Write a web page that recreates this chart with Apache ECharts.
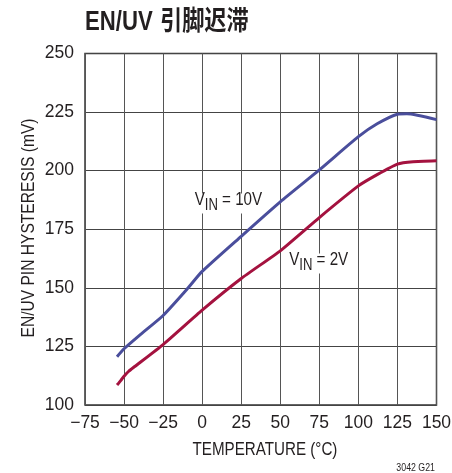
<!DOCTYPE html>
<html><head><meta charset="utf-8">
<script src="https://cdn.jsdelivr.net/npm/echarts@6/dist/echarts.min.js"></script>
<style>html,body{margin:0;padding:0;background:#fff}#c{width:452px;height:473px}</style>
</head><body><div id="c"></div>
<script>
const titleLatin = 'EN/UV';
const titleCn = '引脚迟滞';
const xName = 'TEMPERATURE (°C)';
const yName = 'EN/UV PIN HYSTERESIS (mV)';
const figNote = '3042 G21';
const label10V = ['V', 'IN', ' = 10V'];
const label2V = ['V', 'IN', ' = 2V'];

const xTicks = [-75, -50, -25, 0, 25, 50, 75, 100, 125, 150];
const yTicks = [100, 125, 150, 175, 200, 225, 250];

const temp10V = [-54.5, -50, -40, -25, -10, 0, 25, 50, 75, 100, 112, 125, 131, 150];
const hyst10V = [120.6, 124, 129.8, 138.2, 149.2, 157, 172, 186.7, 200.3, 214.5, 220, 224.1, 224.3, 221.8];

const temp2V = [-54.5, -52, -50, -47, -44, -25, 0, 25, 50, 75, 100, 112, 125, 135, 150];
const hyst2V = [108.5, 110.5, 112.3, 114.4, 116, 125.8, 140.5, 154, 165.8, 180, 193.5, 198.3, 202.8, 203.8, 204.2];

const FONT = "'Liberation Sans',Arial,sans-serif";
const CJK = "'Liberation Sans','Noto Sans CJK SC',sans-serif";
const TXT = '#231f20';
const NARROW = 0.82;

const chart = echarts.init(document.getElementById('c'), null, {renderer: 'canvas'});
const zip = (a, b) => a.map((v, i) => [v, b[i]]);
const minus = v => String(v).replace('-', '\u2212');

function subLabel(parts) {
  return '{a|' + parts[0] + '}{b|' + parts[1] + '}{a|' + parts[2] + '}';
}
const richSub = {
  a: {fontFamily: FONT, fontSize: 18.5, lineHeight: 20, padding: [0, 0, 4, 0], verticalAlign: 'bottom', fill: TXT},
  b: {fontFamily: FONT, fontSize: 16, lineHeight: 14, padding: [10, 0, 0, 0], verticalAlign: 'bottom', fill: TXT}
};

chart.setOption({
  animation: false,
  backgroundColor: '#fff',
  grid: {left: 85, top: 53.5, right: 15.5, bottom: 68, show: true, borderColor: '#333', borderWidth: 1.5, outerBoundsMode: 'none'},
  xAxis: {
    type: 'value', min: xTicks[0], max: xTicks[xTicks.length - 1], interval: xTicks[1] - xTicks[0],
    axisLine: {show: false}, axisTick: {show: false},
    axisLabel: {formatter: minus, fontFamily: FONT, fontSize: 17.5, color: TXT, margin: 9},
    splitLine: {show: true, lineStyle: {color: '#555', width: 1}}
  },
  yAxis: {
    type: 'value', min: yTicks[0], max: yTicks[yTicks.length - 1], interval: yTicks[1] - yTicks[0],
    axisLine: {show: false}, axisTick: {show: false},
    axisLabel: {fontFamily: FONT, fontSize: 17.5, color: TXT, margin: 11},
    splitLine: {show: true, lineStyle: {color: '#444', width: 1}}
  },
  series: [
    {type: 'line', data: zip(temp10V, hyst10V), showSymbol: false, smooth: 0.2,
     lineStyle: {color: '#4a4e9c', width: 3}, z: 3},
    {type: 'line', data: zip(temp2V, hyst2V), showSymbol: false, smooth: 0.15,
     lineStyle: {color: '#a4123f', width: 3}, z: 3}
  ],
  graphic: [
    {type: 'text', x: 85, y: 22.5, scaleX: NARROW, style: {
      text: '{a|' + titleLatin + '}{b|' + titleCn + '}', verticalAlign: 'middle',
      rich: {
        a: {fontFamily: FONT, fontWeight: 'bold', fontSize: 27, fill: TXT},
        b: {fontFamily: CJK, fontWeight: 'bold', fontSize: 27, fill: TXT, padding: [0, 0, 0, 9]}
      }}},
    {type: 'text', x: 265, y: 450.3, scaleX: NARROW, style: {text: xName, fontFamily: FONT, fontSize: 18.5, fill: TXT, align: 'center', verticalAlign: 'middle'}},
    {type: 'text', x: 28.5, y: 228, rotation: Math.PI / 2, scaleX: NARROW, style: {text: yName, fontFamily: FONT, fontSize: 19, fill: TXT, align: 'center', verticalAlign: 'middle'}},
    {type: 'text', x: 435, y: 468.3, scaleX: 0.8, style: {text: figNote, fontFamily: FONT, fontSize: 11, fill: TXT, align: 'right', verticalAlign: 'middle'}},
    {type: 'text', x: 193, y: 193.4, z: 10, scaleX: NARROW, style: {text: subLabel(label10V), verticalAlign: 'top', rich: richSub, backgroundColor: '#fff', padding: [0, 2, 0, 2]}},
    {type: 'text', x: 287.5, y: 253.4, z: 10, scaleX: NARROW, style: {text: subLabel(label2V), verticalAlign: 'top', rich: richSub, backgroundColor: '#fff', padding: [0, 2, 0, 2]}}
  ]
});
</script></body></html>
